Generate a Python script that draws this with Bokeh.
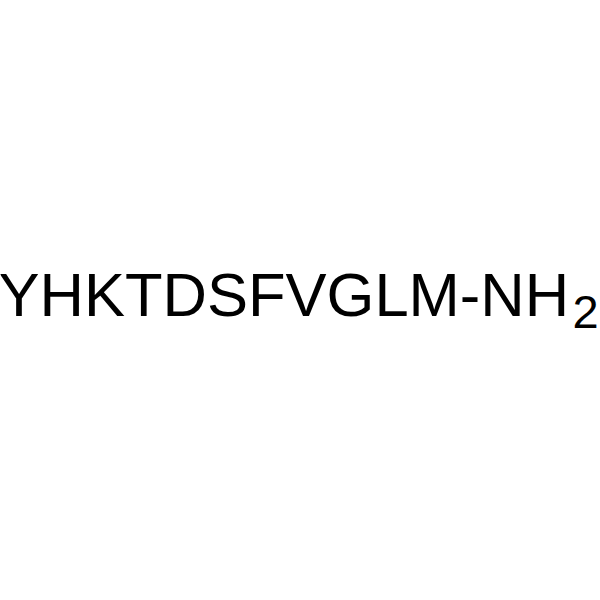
from bokeh.plotting import figure
from bokeh.models import Range1d
from bokeh.core.properties import value
from bokeh.embed import file_html
from bokeh.resources import INLINE

# Text content
main_label = ["YHKTDSFVGLM-NH"]
sub_label = ["2"]

p = figure(width=600, height=600, output_backend="svg", toolbar_location=None,
           x_range=Range1d(0, 600), y_range=Range1d(600, 0),
           min_border=0, min_border_left=0, min_border_right=0,
           min_border_top=0, min_border_bottom=0)
p.axis.visible = False
p.grid.visible = False
p.outline_line_color = None
p.background_fill_color = "white"
p.border_fill_color = "white"

p.text(x=[-2], y=[294], text=main_label, text_font=value("Liberation Sans"),
       text_font_size="61.5px", text_color="black", text_baseline="alphabetic",
       text_align="left")
p.text(x=[572], y=[311.2], text=sub_label, text_font=value("Liberation Sans"),
       text_font_size="47px", text_color="black", text_baseline="alphabetic",
       text_align="left")

html = file_html(p, INLINE)
html = html.replace("<head>", "<head><style>html,body{margin:0;padding:0;overflow:hidden;}</style>", 1)
open("out.html", "w").write(html)
